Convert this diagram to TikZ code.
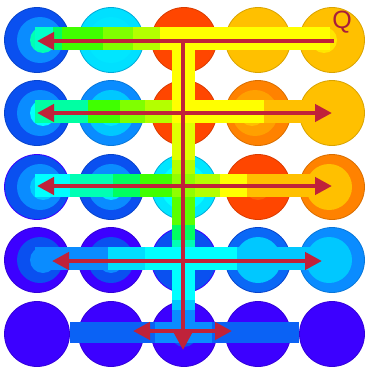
\documentclass[tikz,border=0pt]{standalone}
\usepackage{fontspec}
\newfontfamily\qfont{Liberation Sans}
\usetikzlibrary{arrows.meta}
\definecolor{vio}{HTML}{3C00FF}
\definecolor{bA}{HTML}{0A50F0}
\definecolor{bB}{HTML}{0A8CFF}
\definecolor{bC}{HTML}{00C8FF}
\definecolor{cyB}{HTML}{00E6FF}
\definecolor{cy}{HTML}{00FFFF}
\definecolor{aq}{HTML}{00FFB4}
\definecolor{gA}{HTML}{00FF60}
\definecolor{gB}{HTML}{40FF00}
\definecolor{gC}{HTML}{80FF00}
\definecolor{gD}{HTML}{B4FF00}
\definecolor{ye}{HTML}{FFFF00}
\definecolor{am}{HTML}{FFC000}
\definecolor{oa}{HTML}{FFA000}
\definecolor{orr}{HTML}{FF8200}
\definecolor{rd}{HTML}{FF4600}
\definecolor{rdB}{HTML}{FF6400}
\definecolor{arrowred}{HTML}{C0223A}
\definecolor{qred}{HTML}{A81E3C}
\newcommand\heat[8]{%
  \node[circle,inner sep=0pt,minimum size=65pt,fill=#4,draw=#8,line width=0.8pt] (#1) at (#2,#3) {};
  \fill[#5] ({#2+(#7)},#3) circle[radius=23pt];
  \fill[#6] ({#2+2*(#7)},#3) circle[radius=13pt];
}
\newcommand\seg[5]{\fill[#5] (#1,#3) rectangle (#2,#4);}
\tikzset{
  arr/.style={draw=arrowred,line width=4.5pt,-{Triangle[length=17pt,width=17pt]}},
  darr/.style={draw=arrowred,line width=4.5pt,{Triangle[length=17pt,width=17pt]}-{Triangle[length=17pt,width=17pt]}}
}
\begin{document}
\begin{tikzpicture}[x=1pt,y=-1pt]
\useasboundingbox (0,0) rectangle (364,369);
% row 1
\heat{c11}{37}{40}{bA}{bB}{aq}{3}{bA!85!black}
\heat{c12}{111}{40}{cyB!80!bC}{cyB}{cyB}{0}{bC!85!black}
\heat{c13}{184}{40}{rd}{rd}{rdB}{-3}{rd!85!black}
\heat{c14}{258}{40}{am}{am}{am}{0}{am!85!black}
\heat{c15}{332}{40}{am}{am}{ye!60!am}{-4}{am!85!black}
% row 2
\heat{c21}{37}{113}{bA}{bB}{cy}{3}{bA!85!black}
\heat{c22}{111}{113}{bB}{bC}{cyB}{0}{bB!85!black}
\heat{c23}{184}{113}{rd}{rd}{rd}{0}{rd!85!black}
\heat{c24}{258}{113}{orr}{oa}{am}{-3}{orr!85!black}
\heat{c25}{332}{113}{am}{am}{am}{0}{am!85!black}
% row 3
\heat{c31}{37}{187}{bA}{bB}{bC}{3}{vio}
\heat{c32}{111}{187}{bA}{bB}{cyB}{0}{bA!85!black}
\heat{c33}{184}{187}{cyB}{cy}{cy}{0}{bC!85!black}
\heat{c34}{258}{187}{rd}{rd}{rdB}{0}{rd!85!black}
\heat{c35}{332}{187}{orr}{am}{am}{-3}{orr!85!black}
% row 4
\heat{c41}{37}{260}{vio}{bA}{bB}{3}{vio!85!black}
\heat{c42}{111}{260}{vio}{bA}{bB}{0}{vio!85!black}
\heat{c43}{184}{260}{bA}{bA}{bA}{0}{vio}
\heat{c44}{258}{260}{bA!60!bB}{bC}{bC}{0}{bA!85!black}
\heat{c45}{332}{260}{bB}{bC}{bC}{-3}{bB!85!black}
% row 5
\heat{c51}{37}{334}{vio}{vio}{vio}{0}{vio!85!black}
\heat{c52}{111}{334}{vio}{vio}{vio}{0}{vio!85!black}
\heat{c53}{184}{334}{vio}{vio}{bA}{0}{vio!85!black}
\heat{c54}{258}{334}{vio}{vio}{vio}{0}{vio!85!black}
\heat{c55}{332}{334}{vio}{vio}{vio}{0}{vio!85!black}
% bars row 1
\seg{35}{53}{27}{50}{aq!70!cy}
\seg{53}{62}{27}{50}{gA}
\seg{62}{103}{27}{50}{gB}
\seg{103}{133}{27}{50}{gC}
\seg{133}{160}{27}{50}{gD}
\seg{160}{330}{27}{50}{ye}
% row 2
\seg{35}{88}{100}{123}{aq!80!gA}
\seg{88}{120}{100}{123}{gB}
\seg{120}{145}{100}{123}{gC}
\seg{145}{172}{100}{123}{gD}
\seg{172}{264}{100}{123}{ye}
\seg{264}{333}{100}{123}{am}
% row 3
\seg{35}{70}{174}{197}{cy}
\seg{70}{113}{174}{197}{aq}
\seg{113}{140}{174}{197}{gA}
\seg{140}{172}{174}{197}{gB}
\seg{195}{220}{174}{197}{gD}
\seg{220}{247}{174}{197}{ye}
\seg{247}{333}{174}{197}{am}
% row 4
\seg{35}{108}{247}{270}{bB}
\seg{108}{145}{247}{270}{bC!60!cy}
\seg{145}{237}{247}{270}{cy}
\seg{237}{333}{247}{270}{bC}
% row 5
\seg{70}{155}{322}{343}{bA!70!bB}
\seg{155}{212}{322}{343}{bB}
\seg{212}{299}{322}{343}{bA!70!bB}
% trunk
\seg{172}{195}{27}{123}{ye}
\seg{172}{195}{123}{160}{ye!60!gD}
\seg{172}{195}{160}{174}{gD}
\seg{172}{195}{174}{197}{gC!70!gD}
\seg{172}{195}{197}{225}{gB!60!gC}
\seg{172}{195}{225}{240}{gA}
\seg{172}{195}{240}{247}{aq}
\seg{172}{195}{247}{300}{cy}
\seg{172}{195}{300}{310}{bC}
\seg{172}{195}{310}{343}{bB}
% arrow end points
\coordinate (r1s) at (334,41);
\coordinate (r1e) at (37,41);
\coordinate (r2l) at (37,113);
\coordinate (r2r) at (332,113);
\coordinate (r3l) at (37,186);
\coordinate (r3r) at (332,186);
\coordinate (r4l) at (52,261);
\coordinate (r4r) at (322,261);
\coordinate (r5l) at (133,331);
\coordinate (r5r) at (232,331);
\coordinate (vt) at (183,41);
\coordinate (vb) at (183,350);
% arrows
\draw[arr] (vt) -- (vb);
\draw[arr] (r1s) -- (r1e);
\draw[darr] (r2l) -- (r2r);
\draw[darr] (r3l) -- (r3r);
\draw[darr] (r4l) -- (r4r);
\draw[darr] (r5l) -- (r5r);
\node[text=qred,font=\qfont\fontsize{25}{25}\selectfont,inner sep=0pt] (Q) at (342,22) {Q};
\end{tikzpicture}
\end{document}
